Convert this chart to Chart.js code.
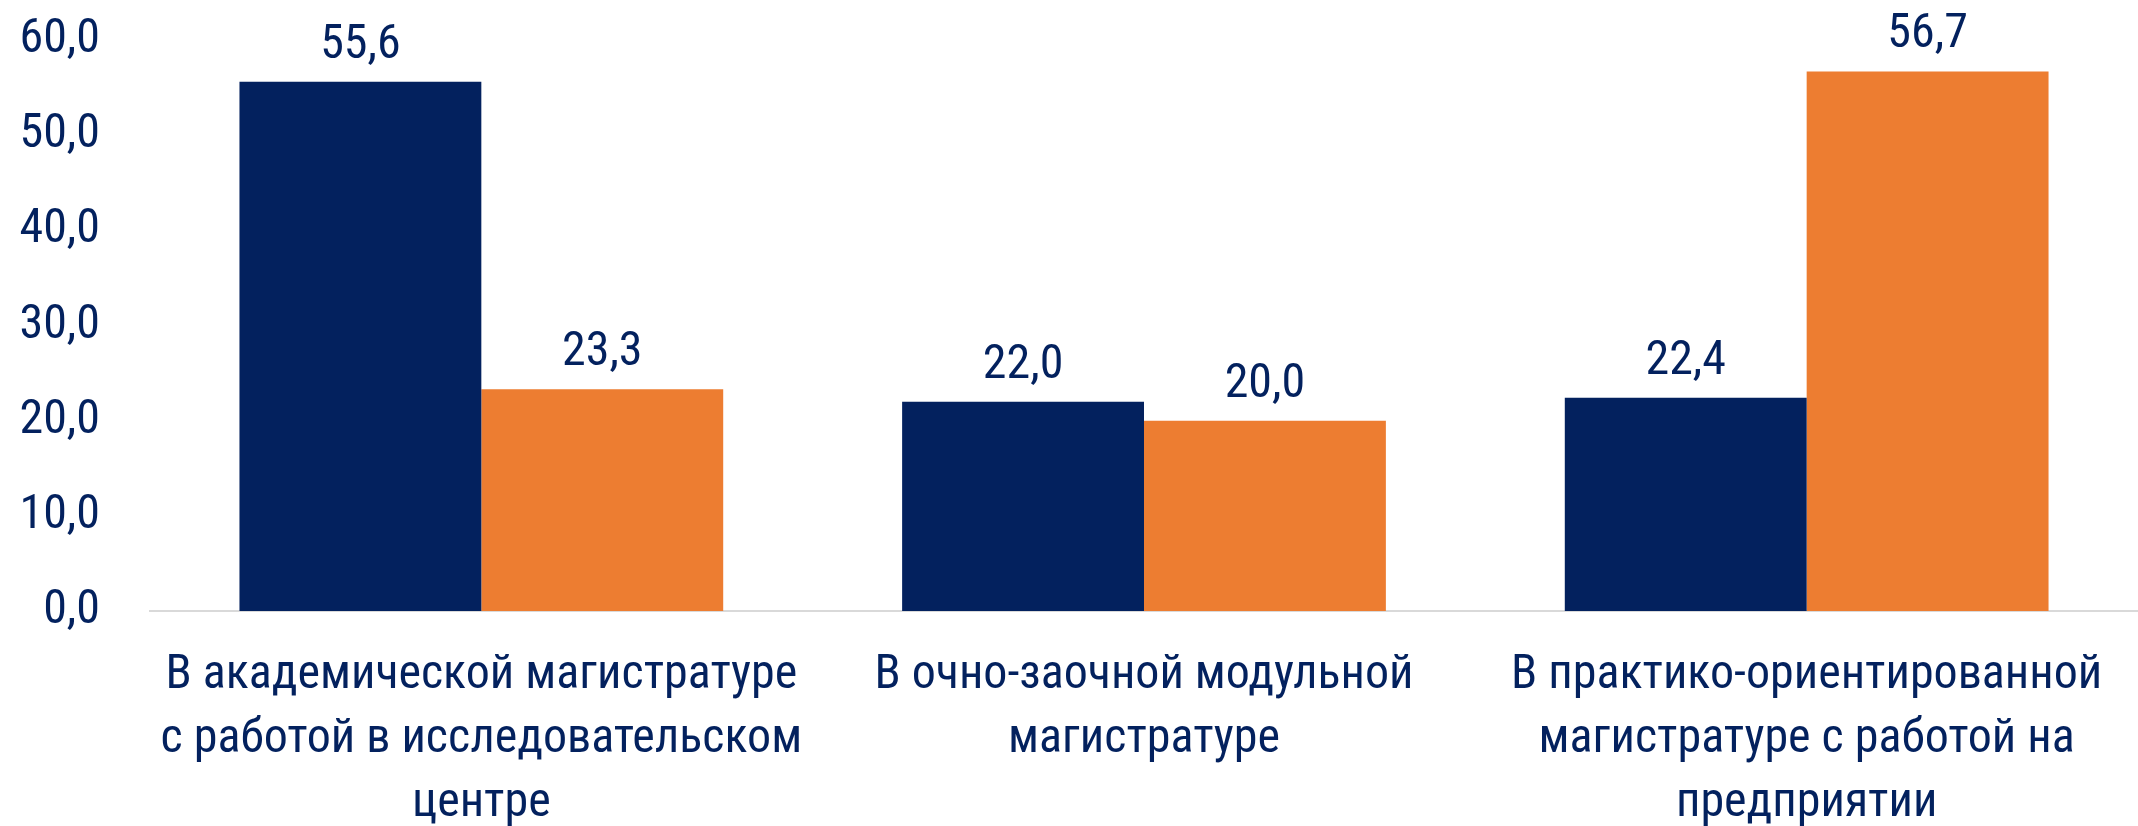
<!DOCTYPE html>
<html>
<head>
<meta charset="utf-8">
<script src="https://cdn.jsdelivr.net/npm/chart.js@4"></script>
<style>
  html, body { margin: 0; padding: 0; background: #fff; }
  #wrap { width: 2138px; height: 826px; position: relative; }
</style>
</head>
<body>
<div id="wrap"><canvas id="barChart"></canvas></div>
<script>
// categories (split into lines as on the picture)
const categories = [
  ['В академической магистратуре', 'с работой в исследовательском', 'центре'],
  ['В очно-заочной модульной', 'магистратуре'],
  ['В практико-ориентированной', 'магистратуре с работой на', 'предприятии']
];
const seriesNavy = [55.6, 22.0, 22.4];
const seriesOrange = [23.3, 20.0, 56.7];
const yTicks = [0, 10, 20, 30, 40, 50, 60];

const NAVY = '#03215E';
const ORANGE = '#ED7D31';
const FONT = "'Roboto Condensed', 'Liberation Sans Narrow', 'Arial Narrow', sans-serif";
const FSIZE = 48;

const fmt = v => v.toFixed(1).replace('.', ',');

// value labels over the bars
const valueLabels = {
  id: 'valueLabels',
  afterDatasetsDraw(chart) {
    const ctx = chart.ctx;
    ctx.save();
    ctx.fillStyle = NAVY;
    ctx.font = FSIZE + 'px ' + FONT;
    ctx.textAlign = 'center';
    ctx.textBaseline = 'alphabetic';
    chart.data.datasets.forEach((ds, i) => {
      chart.getDatasetMeta(i).data.forEach((bar, j) => {
        ctx.fillText(fmt(ds.data[j]), bar.x, bar.y - 24);
      });
    });
    ctx.restore();
  }
};

new Chart(document.getElementById('barChart'), {
  type: 'bar',
  data: {
    labels: categories,
    datasets: [
      { data: seriesNavy, backgroundColor: NAVY, categoryPercentage: 0.73, barPercentage: 1.0 },
      { data: seriesOrange, backgroundColor: ORANGE, categoryPercentage: 0.73, barPercentage: 1.0 }
    ]
  },
  options: {
    responsive: true,
    maintainAspectRatio: false,
    devicePixelRatio: 1,
    animation: false,
    layout: { padding: 0 },
    plugins: { legend: { display: false }, tooltip: { enabled: false } },
    scales: {
      y: {
        min: 0,
        max: 60,
        afterBuildTicks: scale => { scale.ticks = yTicks.map(v => ({ value: v })); },
        afterFit: scale => {
          scale.width = 150;
          scale.paddingTop = 40;
          scale.paddingBottom = 0;
        },
        grid: { display: false, drawTicks: false },
        border: { display: false },
        ticks: {
          padding: 50,
          color: NAVY,
          font: { family: FONT, size: FSIZE },
          callback: v => fmt(v)
        }
      },
      x: {
        afterFit: scale => { scale.height = 215; },
        grid: { display: false, drawTicks: false },
        border: { display: true, color: '#D9D9D9', width: 2 },
        ticks: {
          padding: 33,
          color: NAVY,
          maxRotation: 0,
          autoSkip: false,
          font: { family: FONT, size: FSIZE, lineHeight: 1.33 }
        }
      }
    }
  },
  plugins: [valueLabels]
});
</script>
</body>
</html>
